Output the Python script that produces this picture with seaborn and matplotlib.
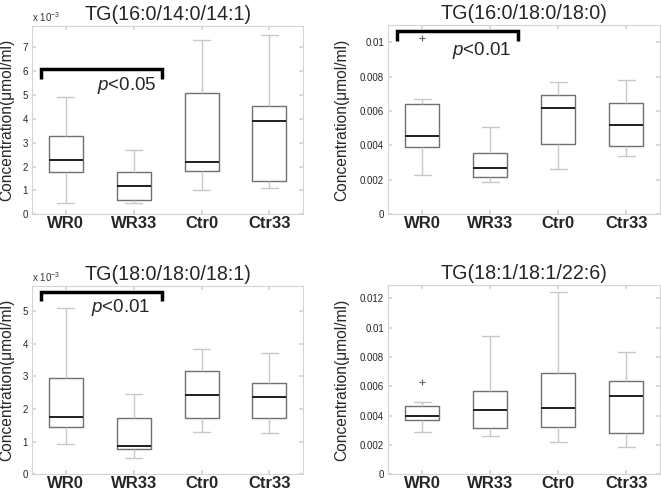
import matplotlib
matplotlib.use("Agg")
import matplotlib.pyplot as plt
from matplotlib.ticker import FuncFormatter
import numpy as np
import pandas as pd
import seaborn as sns

# Данные: [нижний ус, Q1, медиана, Q3, верхний ус]
groups = ["WR0", "WR33", "Ctr0", "Ctr33"]

# TG(16:0/14:0/14:1), единицы x 10^-3
tg1_wr0 = [0.49, 1.77, 2.27, 3.28, 4.94]
tg1_wr33 = [0.49, 0.61, 1.18, 1.78, 2.70]
tg1_ctr0 = [1.02, 1.82, 2.20, 5.07, 7.33]
tg1_ctr33 = [1.10, 1.39, 3.90, 4.56, 7.54]

# TG(16:0/18:0/18:0)
tg2_wr0 = [0.00230, 0.00393, 0.00455, 0.00640, 0.00671]
tg2_wr33 = [0.00188, 0.00219, 0.00269, 0.00356, 0.00509]
tg2_ctr0 = [0.00263, 0.00410, 0.00615, 0.00692, 0.00770]
tg2_ctr33 = [0.00340, 0.00398, 0.00518, 0.00646, 0.00778]
tg2_outliers = {"WR0": [0.01023]}

# TG(18:0/18:0/18:1), единицы x 10^-3
tg3_wr0 = [0.92, 1.46, 1.76, 2.96, 5.11]
tg3_wr33 = [0.49, 0.77, 0.87, 1.73, 2.47]
tg3_ctr0 = [1.31, 1.73, 2.43, 3.16, 3.83]
tg3_ctr33 = [1.26, 1.73, 2.37, 2.81, 3.72]

# TG(18:1/18:1/22:6)
tg4_wr0 = [0.00286, 0.00368, 0.00398, 0.00468, 0.00491]
tg4_wr33 = [0.00259, 0.00316, 0.00436, 0.00570, 0.00943]
tg4_ctr0 = [0.00218, 0.00320, 0.00450, 0.00691, 0.01239]
tg4_ctr33 = [0.00186, 0.00284, 0.00536, 0.00634, 0.00836]
tg4_outliers = {"WR0": [0.00632]}

panels = [
    dict(title="TG(16:0/14:0/14:1)", data=[tg1_wr0, tg1_wr33, tg1_ctr0, tg1_ctr33],
         outliers={}, ylim=7.9, ticks=np.arange(0, 8, 1), scaled=True,
         bracket=(6.10, 5.68), ptext="<0.05", ppos=(1.34, 5.42),
         pos=[32, 26, 303.3, 214.3], ylab_x=-0.066),
    dict(title="TG(16:0/18:0/18:0)", data=[tg2_wr0, tg2_wr33, tg2_ctr0, tg2_ctr33],
         outliers=tg2_outliers, ylim=0.011, ticks=np.arange(0, 0.0101, 0.002), scaled=False,
         bracket=(0.01064, 0.01006), ptext="<0.01", ppos=(1.31, 0.00953),
         pos=[388.3, 25, 660.3, 214.3], ylab_x=-0.143),
    dict(title="TG(18:0/18:0/18:1)", data=[tg3_wr0, tg3_wr33, tg3_ctr0, tg3_ctr33],
         outliers={}, ylim=5.78, ticks=np.arange(0, 6, 1), scaled=True,
         bracket=(5.59, 5.31), ptext="<0.01", ppos=(1.24, 5.10),
         pos=[32, 285.7, 303.3, 474.3], ylab_x=-0.066),
    dict(title="TG(18:1/18:1/22:6)", data=[tg4_wr0, tg4_wr33, tg4_ctr0, tg4_ctr33],
         outliers=tg4_outliers, ylim=0.0129, ticks=np.arange(0, 0.0121, 0.002), scaled=False,
         bracket=None, pos=[388.3, 285, 660.3, 474.3], ylab_x=-0.143),
]

sns.set_theme(style="white")
plt.rcParams["font.family"] = ["Liberation Sans", "DejaVu Sans"]
plt.rcParams["mathtext.fontset"] = "custom"
plt.rcParams["mathtext.rm"] = "Liberation Sans"
plt.rcParams["mathtext.it"] = "Liberation Sans:italic"

W, H = 661, 491
fig = plt.figure(figsize=(W / 100, H / 100), dpi=100)

light = "#c8c8c8"
frame = "#d4d4d4"
boxc = "#707070"

for p in panels:
    l, t, r, b = p["pos"]
    ax = fig.add_axes([l / W, 1 - b / H, (r - l) / W, (b - t) / H])

    df = pd.DataFrame({
        "group": np.repeat(groups, 5),
        "value": np.concatenate(p["data"]),
    })
    sns.boxplot(data=df, x="group", y="value", order=groups, whis=(0, 100),
                width=0.5, fill=False, showfliers=False, ax=ax,
                boxprops=dict(color=boxc, linewidth=1.0),
                whiskerprops=dict(color=light, linewidth=1.0, linestyle="-"),
                capprops=dict(color=light, linewidth=1.0),
                medianprops=dict(color="#1e1e1e", linewidth=1.4))

    # выбросы
    for g, vals in p["outliers"].items():
        odf = pd.DataFrame({"group": [g] * len(vals), "value": vals})
        sns.stripplot(data=odf, x="group", y="value", order=groups, jitter=False,
                      marker="+", color="#666666", size=4, linewidth=0.8, ax=ax)

    ax.set_xlim(-0.5, 3.5)
    ax.set_ylim(0, p["ylim"])
    ax.set_yticks(p["ticks"])
    ax.yaxis.set_major_formatter(FuncFormatter(lambda v, pos: "%g" % round(v, 6)))
    ax.tick_params(axis="y", labelsize=7, direction="in", length=3, color=frame,
                   left=True, right=True, pad=3)
    ax.tick_params(axis="x", labelsize=12, direction="in", length=3, color=frame,
                   bottom=True, top=True, pad=1.5)
    for lab in ax.get_xticklabels():
        lab.set_fontweight("bold")
    for s in ax.spines.values():
        s.set_color(frame)
        s.set_linewidth(0.8)

    ax.set_xlabel("")
    ax.set_ylabel("Concentration(μmol/ml)", fontsize=11.2)
    ax.yaxis.set_label_coords(p["ylab_x"], 0.5)
    ax.set_title(p["title"], fontsize=14.2, pad=4)

    if p["scaled"]:
        ax.text(0.0, 1.01, r"x 10$^{-3}$", transform=ax.transAxes, fontsize=7,
                ha="left", va="bottom", color="#333333")

    if p["bracket"] is not None:
        top, low = p["bracket"]
        ax.plot([-0.37, -0.37, 1.41, 1.41], [low, top, top, low], color="black",
                linewidth=2.5, solid_capstyle="butt", solid_joinstyle="miter", clip_on=False)
        ax.text(p["ppos"][0], p["ppos"][1], "$p$" + p["ptext"], fontsize=13.5,
                ha="right", va="center")

fig.savefig("out.png", dpi=100)
